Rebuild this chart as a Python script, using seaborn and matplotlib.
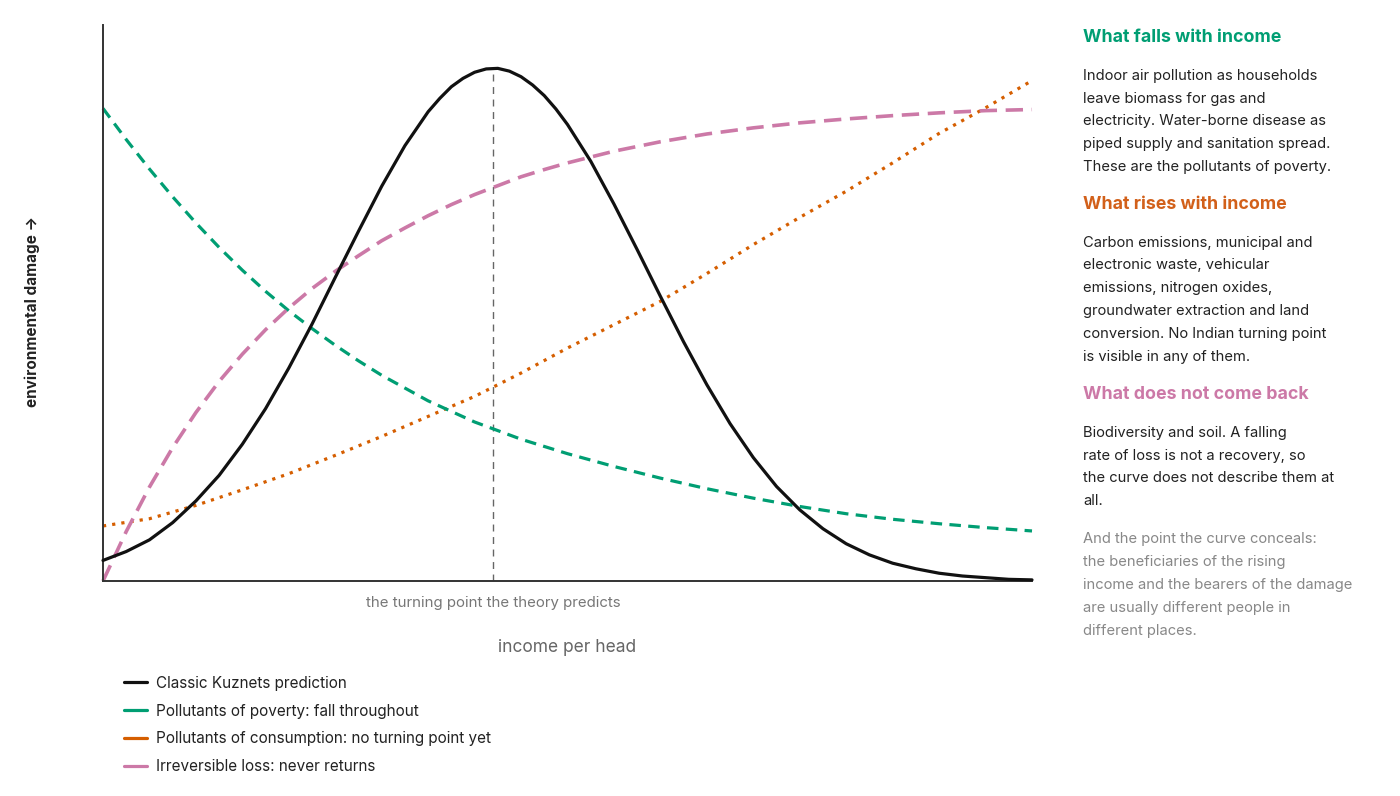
import matplotlib
matplotlib.use("Agg")
import matplotlib.pyplot as plt
from matplotlib.lines import Line2D
import seaborn as sns
import pandas as pd

# values (x: income per head 0-100, y: damage 0-100)
kuz_x = [0, 2.5, 5, 7.5, 10, 12.5, 15, 17.5, 20, 22.5, 25, 27.5, 30, 32.5, 35, 36.25,
         37.5, 38.75, 40, 41.25, 42.5, 43.75, 45, 46.25, 47.5, 48.75, 50, 52.5, 55, 57.5,
         60, 62.5, 65, 67.5, 70, 72.5, 75, 77.5, 80, 82.5, 85, 87.5, 90, 92.5, 95, 97.5, 100]
kuz_y = [3.7, 5.3, 7.4, 10.5, 14.4, 19.0, 24.6, 31.0, 38.3, 46.2, 54.6, 62.9, 71.0, 78.3,
         84.4, 86.8, 88.9, 90.4, 91.5, 92.1, 92.2, 91.7, 90.7, 89.2, 87.3, 84.9, 82.1, 75.5,
         67.8, 59.6, 51.2, 43.0, 35.3, 28.3, 22.2, 17.0, 12.8, 9.4, 6.7, 4.7, 3.2, 2.2, 1.4,
         0.9, 0.6, 0.3, 0.2]

poverty_x = [0, 2.5, 5, 7.5, 10, 12.5, 15, 17.5, 20, 22.5, 25, 27.5, 30, 35, 40, 45, 50,
             55, 60, 65, 70, 75, 80, 85, 90, 95, 100]
poverty_y = [85.0, 79.4, 74.1, 69.1, 64.4, 60.0, 55.9, 52.1, 48.6, 45.4, 42.4, 39.6, 37.0,
             32.4, 28.6, 25.5, 22.9, 20.6, 18.5, 16.6, 14.9, 13.4, 12.1, 11.1, 10.3, 9.6, 9.0]

consumption_x = [0, 5, 10, 15, 20, 25, 30, 35, 40, 45, 50, 55, 60, 65, 70, 75, 80, 85, 90,
                 95, 100]
consumption_y = [9.9, 11.2, 13.6, 16.4, 19.3, 22.6, 26.0, 29.6, 33.2, 37.4, 41.9, 46.1, 50.3,
                 55.3, 60.5, 65.4, 70.1, 75.2, 80.5, 85.1, 90.0]

loss_x = [0, 2.5, 5, 7.5, 10, 12.5, 15, 17.5, 20, 22.5, 25, 27.5, 30, 32.5, 35, 37.5, 40,
          42.5, 45, 47.5, 50, 55, 60, 65, 70, 75, 80, 85, 90, 95, 100]
loss_y = [0, 8.9, 16.9, 24.0, 30.3, 35.9, 40.8, 45.2, 49.1, 52.6, 55.7, 58.5, 61.2, 63.5,
          65.7, 67.7, 69.5, 71.1, 72.7, 74.0, 75.2, 77.3, 79.0, 80.4, 81.5, 82.4, 83.1, 83.7,
          84.2, 84.6, 84.8]

turning_x = 42.0
turning_y = 92.2

labels = ["Classic Kuznets prediction",
          "Pollutants of poverty: fall throughout",
          "Pollutants of consumption: no turning point yet",
          "Irreversible loss: never returns"]
colors = ["#111111", "#009E73", "#D55E00", "#CC79A7"]

sns.set_theme(style="white")
plt.rcParams["font.family"] = ["Inter", "DejaVu Sans"]

W, H = 1400, 796
fig = plt.figure(figsize=(W / 100, H / 100), dpi=100)
ax = fig.add_axes([103 / W, 1 - 581 / H, (1032 - 103) / W, (581 - 25) / H])

kuz = pd.DataFrame({"x": kuz_x, "y": kuz_y})
pov = pd.DataFrame({"x": poverty_x, "y": poverty_y})
con = pd.DataFrame({"x": consumption_x, "y": consumption_y})
los = pd.DataFrame({"x": loss_x, "y": loss_y})

ax.plot([turning_x, turning_x], [0, turning_y], color="#666666", lw=1.0,
        linestyle=(0, (5, 4)), zorder=1)
sns.lineplot(data=con, x="x", y="y", ax=ax, color=colors[2], lw=2.3,
             linestyle=(0, (1, 1.9)), clip_on=False, zorder=2)
sns.lineplot(data=pov, x="x", y="y", ax=ax, color=colors[1], lw=2.3,
             linestyle=(0, (3.6, 2.3)), clip_on=False, zorder=2)
sns.lineplot(data=los, x="x", y="y", ax=ax, color=colors[3], lw=2.6,
             linestyle=(0, (4.8, 2.4)), clip_on=False, zorder=2)
sns.lineplot(data=kuz, x="x", y="y", ax=ax, color=colors[0], lw=2.3,
             clip_on=False, zorder=3)

ax.set_xlim(0, 100)
ax.set_ylim(0, 100)
ax.set_xticks([])
ax.set_yticks([])
ax.set_xlabel("")
ax.set_ylabel("")
for side in ["top", "right"]:
    ax.spines[side].set_visible(False)
for side in ["left", "bottom"]:
    ax.spines[side].set_color("#333333")
    ax.spines[side].set_linewidth(1.4)

def fx(px):
    return px / W

def fy(py):
    return 1 - py / H

fig.text(fx(493), fy(603), "the turning point the theory predicts", ha="center",
         va="center", fontsize=10.8, color="#777777")
fig.text(fx(567), fy(647), "income per head", ha="center", va="center",
         fontsize=12.5, color="#666666")
fig.text(fx(32), fy(311), "environmental damage →", rotation=90, ha="center",
         va="center", fontsize=11, fontweight="bold", color="#222222")

handles = [Line2D([0], [0], color=c, lw=2.3) for c in colors]
fig.legend(handles, labels, loc="upper left", bbox_to_anchor=(fx(110), fy(662)),
           frameon=False, fontsize=11, handlelength=1.55, handletextpad=0.55,
           labelspacing=0.84, labelcolor="#222222")

tx = fx(1083)
heads = [("What falls with income", 37.5, colors[1]),
         ("What rises with income", 204.5, "#D2601A"),
         ("What does not come back", 394.5, colors[3])]
for txt, py, c in heads:
    fig.text(tx, fy(py), txt, ha="left", va="center", fontsize=12.8,
             fontweight="bold", color=c)

body = [("Indoor air pollution as households\nleave biomass for gas and\n"
         "electricity. Water-borne disease as\npiped supply and sanitation spread.\n"
         "These are the pollutants of poverty.", 121.5, "#222222"),
        ("Carbon emissions, municipal and\nelectronic waste, vehicular\n"
         "emissions, nitrogen oxides,\ngroundwater extraction and land\n"
         "conversion. No Indian turning point\nis visible in any of them.", 299.5, "#222222"),
        ("Biodiversity and soil. A falling\nrate of loss is not a recovery, so\n"
         "the curve does not describe them at\nall.", 467, "#222222"),
        ("And the point the curve conceals:\nthe beneficiaries of the rising\n"
         "income and the bearers of the damage\nare usually different people in\n"
         "different places.", 585, "#888888")]
for txt, py, c in body:
    fig.text(tx, fy(py), txt, ha="left", va="center", fontsize=10.6,
             color=c, linespacing=1.8)

fig.savefig("out.png", dpi=100)
